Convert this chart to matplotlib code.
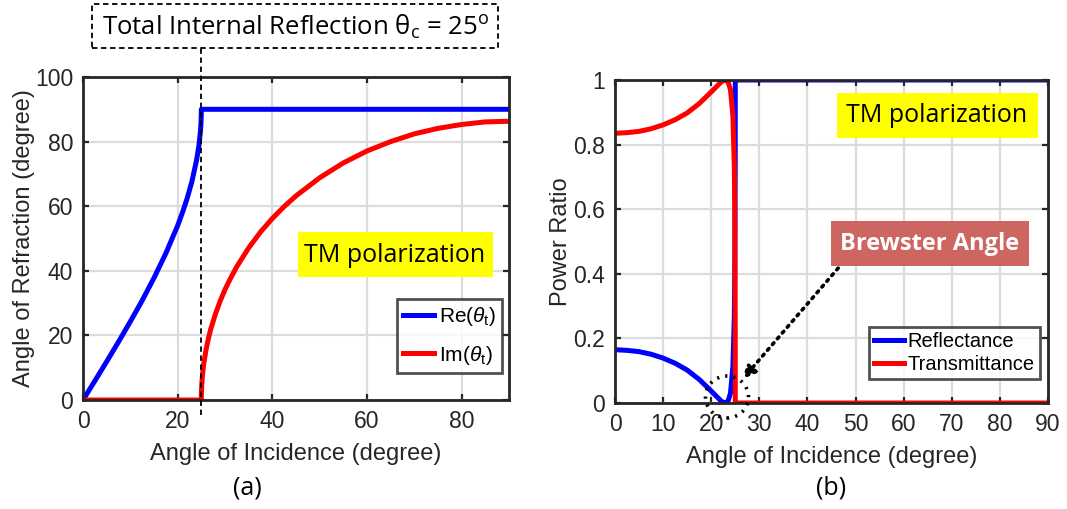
import matplotlib
matplotlib.use("Agg")
import matplotlib.pyplot as plt
from matplotlib.patches import Rectangle, Ellipse
from matplotlib.transforms import blended_transform_factory
from matplotlib.ticker import FuncFormatter

# ---------------- data ----------------
# Panel (a): angle of refraction vs angle of incidence
re_x = [0, 2.5, 5, 7.5, 10, 12.5, 15, 17.5, 20, 21, 22, 23, 24, 24.5, 24.8, 24.9, 24.98, 25, 90]
re_y = [0, 5.9, 11.9, 18.0, 24.3, 30.8, 37.8, 45.4, 54.0, 58.0, 62.4, 67.6, 74.3, 78.9, 83.0, 85.1, 87.8, 90, 90]
im_x = [0, 25, 25.02, 25.1, 25.25, 25.5, 26, 26.5, 27, 28, 29, 30, 31, 32.5, 35, 37.5, 40, 42.5,
        45, 50, 55, 60, 65, 70, 75, 80, 85, 90]
im_y = [0, 0, 2.3, 5.0, 7.9, 11.1, 15.6, 19.1, 22.0, 26.7, 30.7, 34.2, 37.2, 41.3, 47.1, 52.0, 56.2, 59.9,
        63.2, 68.8, 73.4, 77.1, 80.0, 82.4, 84.1, 85.3, 86.1, 86.3]

# Panel (b): power ratio (TM)
pr_x = [0, 2.5, 5, 7.5, 10, 12.5, 15, 17.5, 20, 21, 22, 22.5, 22.9, 23.5, 24, 24.5, 24.8, 24.9, 24.99, 25,
        30, 40, 50, 60, 70, 80, 90]
refl = [0.165, 0.163, 0.159, 0.151, 0.139, 0.123, 0.102, 0.073, 0.037, 0.022, 0.007, 0.002, 0.0, 0.006,
        0.030, 0.111, 0.268, 0.402, 0.758, 1, 1, 1, 1, 1, 1, 1, 1]
trans = [0.835, 0.837, 0.841, 0.849, 0.861, 0.877, 0.898, 0.927, 0.963, 0.978, 0.993, 0.998, 1.0, 0.994,
         0.970, 0.889, 0.732, 0.598, 0.242, 0, 0, 0, 0, 0, 0, 0, 0]

xticks_a = [0, 20, 40, 60, 80]
yticks_a = [0, 20, 40, 60, 80, 100]
xticks_b = [0, 10, 20, 30, 40, 50, 60, 70, 80, 90]
yticks_b = [0, 0.2, 0.4, 0.6, 0.8, 1]

# ---------------- style ----------------
W, H = 1067, 509
plt.rcParams['font.family'] = ['Liberation Sans', 'DejaVu Sans']
plt.rcParams['mathtext.fontset'] = 'custom'
plt.rcParams['mathtext.rm'] = 'Liberation Sans'
plt.rcParams['mathtext.it'] = 'Liberation Sans:italic'
CAL = ['Open Sans', 'DejaVu Sans']
SP = '#262626'
GRID = '#DCDCDC'
BLUE = '#0000FF'
RED = '#FF0000'
LW = 3.6

fig = plt.figure(figsize=(W / 100, H / 100), dpi=100)


def fx(x):
    return x / W


def fy(y):
    return 1 - y / H


def make_axes(l, t, r, b):
    return fig.add_axes([fx(l), fy(b), (r - l) / W, (b - t) / H])


def style(ax):
    for s in ax.spines.values():
        s.set_color(SP)
        s.set_linewidth(2)
        s.set_zorder(5)
    ax.tick_params(direction='in', length=4, width=1.6, color=SP,
                   top=True, right=True, labelsize=16.5, labelcolor='#262626', pad=7)
    ax.grid(True, color=GRID, linewidth=1.6)
    ax.set_axisbelow(True)


fmt = FuncFormatter(lambda v, p: ('%g' % v))

# ---------------- panel (a) ----------------
ax1 = make_axes(83, 77, 509, 400)
style(ax1)
ax1.plot(re_x, re_y, color=BLUE, lw=LW, label=r'Re($\theta_{\rm t}$)', solid_joinstyle='round')
ax1.plot(im_x, im_y, color=RED, lw=LW, label=r'Im($\theta_{\rm t}$)', solid_joinstyle='round')
ax1.set_xlim(0, 90)
ax1.set_ylim(0, 100)
ax1.set_xticks(xticks_a)
ax1.set_yticks(yticks_a)
ax1.xaxis.set_major_formatter(fmt)
ax1.yaxis.set_major_formatter(fmt)
ax1.set_xlabel('Angle of Incidence (degree)', fontsize=17, color='#262626')
ax1.set_ylabel('Angle of Refraction (degree)', fontsize=17, color='#262626')
ax1.xaxis.set_label_coords(0.5, -0.133)
ax1.yaxis.set_label_coords(-0.113, 0.5)
leg1 = ax1.legend(loc='lower right', bbox_to_anchor=((502 - 83) / 426, (400 - 373) / 323),
                  fontsize=15, frameon=True, fancybox=False, handlelength=1.5,
                  handletextpad=0.2, borderpad=0.3, labelspacing=0.75, borderaxespad=0)
leg1.get_frame().set_edgecolor(SP)
leg1.get_frame().set_linewidth(2)

# dashed vertical line at critical angle
tr = blended_transform_factory(ax1.transData, ax1.transAxes)
ax1.plot([25, 25], [-0.046, 1.09], transform=tr, color='black', lw=1.3,
         ls=(0, (3, 2)), clip_on=False, zorder=6)
# dashed title box
fig.patches.append(Rectangle((fx(92), fy(48)), (498 - 92) / W, (48 - 4) / H,
                             transform=fig.transFigure, facecolor='white',
                             edgecolor='black', lw=1.3, ls=(0, (3, 2)), zorder=7))
fig.text(fx(296), fy(27), r'Total Internal Reflection θ$_\mathregular{c}$ = 25$^\mathregular{o}$',
         family=CAL, fontsize=18.5, ha='center', va='center', zorder=8)

# yellow label
fig.patches.append(Rectangle((fx(298), fy(277)), (493 - 298) / W, (277 - 232) / H,
                             transform=fig.transFigure, facecolor='#FFFF00',
                             edgecolor='none', zorder=7))
fig.text(fx(395), fy(255), 'TM polarization', family=CAL, fontsize=18,
         ha='center', va='center', zorder=8)
fig.text(fx(247), fy(488), '(a)', family=CAL, fontsize=18, ha='center', va='center')

# ---------------- panel (b) ----------------
ax2 = make_axes(615, 80, 1048, 403)
style(ax2)
ax2.plot(pr_x, refl, color=BLUE, lw=LW, label='Reflectance', solid_joinstyle='round')
ax2.plot(pr_x, trans, color=RED, lw=LW, label='Transmittance', solid_joinstyle='round')
ax2.set_xlim(0, 90)
ax2.set_ylim(0, 1)
ax2.set_xticks(xticks_b)
ax2.set_yticks(yticks_b)
ax2.xaxis.set_major_formatter(fmt)
ax2.yaxis.set_major_formatter(fmt)
ax2.set_xlabel('Angle of Incidence (degree)', fontsize=17, color='#262626')
ax2.set_ylabel('Power Ratio', fontsize=17, color='#262626')
ax2.xaxis.set_label_coords(0.5, -0.133)
ax2.yaxis.set_label_coords(-0.099, 0.5)
leg2 = ax2.legend(loc='lower right', bbox_to_anchor=((1040 - 615) / 433, (403 - 379) / 323),
                  fontsize=14.5, frameon=True, fancybox=False, handlelength=1.5,
                  handletextpad=0.2, borderpad=0.25, labelspacing=0.2, borderaxespad=0)
leg2.get_frame().set_edgecolor(SP)
leg2.get_frame().set_linewidth(2)

fig.patches.append(Rectangle((fx(837), fy(138)), (1038 - 837) / W, (138 - 93) / H,
                             transform=fig.transFigure, facecolor='#FFFF00',
                             edgecolor='none', zorder=7))
fig.text(fx(937), fy(116), 'TM polarization', family=CAL, fontsize=18,
         ha='center', va='center', zorder=8)

fig.patches.append(Rectangle((fx(831), fy(266)), (1029 - 831) / W, (266 - 221) / H,
                             transform=fig.transFigure, facecolor='#CD6660',
                             edgecolor='none', zorder=7))
fig.text(fx(930), fy(244), 'Brewster Angle', family=CAL, fontsize=17, fontweight='bold',
         color='white', ha='center', va='center', zorder=8)

# dotted arrow and circle
fig.add_artist(matplotlib.patches.FancyArrowPatch(
    (fx(840), fy(266)), (fx(741), fy(381)), transform=fig.transFigure,
    arrowstyle='-|>', mutation_scale=18, color='black', lw=2.6,
    linestyle=(0, (0.6, 1.5)), zorder=9))
fig.add_artist(Ellipse((fx(727), fy(397)), 43 / W, 42 / H, transform=fig.transFigure,
                       facecolor='none', edgecolor='black', lw=2.6,
                       linestyle=(0, (0.6, 1.7)), zorder=9))

fig.text(fx(831), fy(488), '(b)', family=CAL, fontsize=18, ha='center', va='center')

fig.savefig('out.png', dpi=100)
